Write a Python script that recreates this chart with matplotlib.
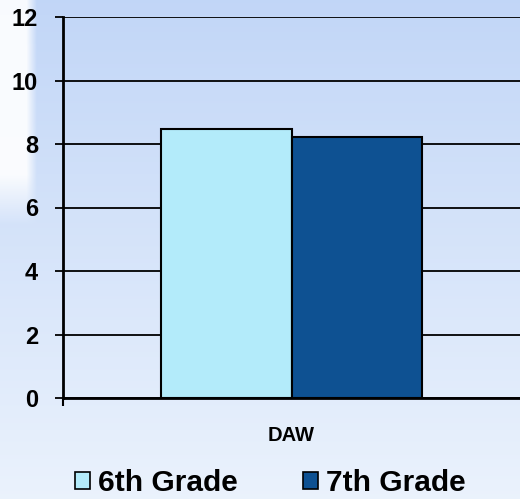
import numpy as np
import matplotlib
matplotlib.use("Agg")
import matplotlib.pyplot as plt
from matplotlib.patches import Patch

categories = ["DAW"]
series_names = ["6th Grade", "7th Grade"]
values_6th = [8.47]
values_7th = [8.22]
colors = ["#b3ebfa", "#0e5192"]
yticks = [0, 2, 4, 6, 8, 10, 12]

plt.rcParams['font.family'] = ['Liberation Sans', 'DejaVu Sans']
plt.rcParams['font.weight'] = 'bold'

fig = plt.figure(figsize=(5.2, 4.99), dpi=100)

# background gradient
bg = fig.add_axes([0, 0, 1, 1], zorder=-10)
h, w = 499, 520
yy = np.linspace(0, 1, h)[:, None]
xx = np.linspace(0, 1, w)[None, :]
top = np.array([0.76, 0.84, 0.97])
bot = np.array([0.92, 0.95, 0.99])
img = top[None, None, :] * (1 - yy[..., None]) + bot[None, None, :] * yy[..., None]
img = np.broadcast_to(img, (h, w, 3)).copy()
# whiter strip on left
strip = np.clip((0.07 - xx) / 0.02, 0, 1) * np.clip((0.45 - yy) / 0.1, 0, 1)
img = img * (1 - strip[..., None] * 0.9) + np.ones(3) * strip[..., None] * 0.9
bg.imshow(img, aspect='auto', extent=[0, 1, 0, 1])
bg.axis('off')

ax = fig.add_axes([63/520, 1 - 398/499, 1 - 63/520, (398 - 17)/499])
ax.set_facecolor('none')

x = np.arange(len(categories))
bw = 0.286
ax.bar(x - bw/2, values_6th, bw, color=colors[0], edgecolor='black', linewidth=1.5, zorder=3)
ax.bar(x + bw/2, values_7th, bw, color=colors[1], edgecolor='black', linewidth=1.5, zorder=3)

ax.set_xlim(-0.5, 0.5)
ax.set_ylim(0, 12)
ax.set_yticks(yticks)
ax.set_yticklabels([str(t) for t in yticks], fontsize=17, fontweight='bold')
ax.yaxis.grid(True, color='black', linewidth=1.3, zorder=1)
ax.tick_params(axis='y', direction='out', length=6, width=1.3, pad=12)
ax.set_xticks(x)
ax.set_xticklabels(categories, fontsize=14.5, fontweight='bold')
ax.tick_params(axis='x', length=0, pad=20)
ax.set_xticks([-0.5], minor=True)
ax.tick_params(axis='x', which='minor', direction='out', length=6, width=1.5)

for s in ['top', 'right']:
    ax.spines[s].set_visible(False)
ax.spines['left'].set_linewidth(2)
ax.spines['bottom'].set_linewidth(2)

handles = [Patch(facecolor=c, edgecolor='black', linewidth=1.2) for c in colors]
fig.legend(handles, series_names, loc='center', bbox_to_anchor=(0.52, 0.032), ncol=2,
           frameon=False, prop={'size': 21.5, 'weight': 'bold'}, handlelength=0.5,
           handleheight=0.5, handletextpad=0.27, columnspacing=2.2)

fig.savefig("out.png", dpi=100)
